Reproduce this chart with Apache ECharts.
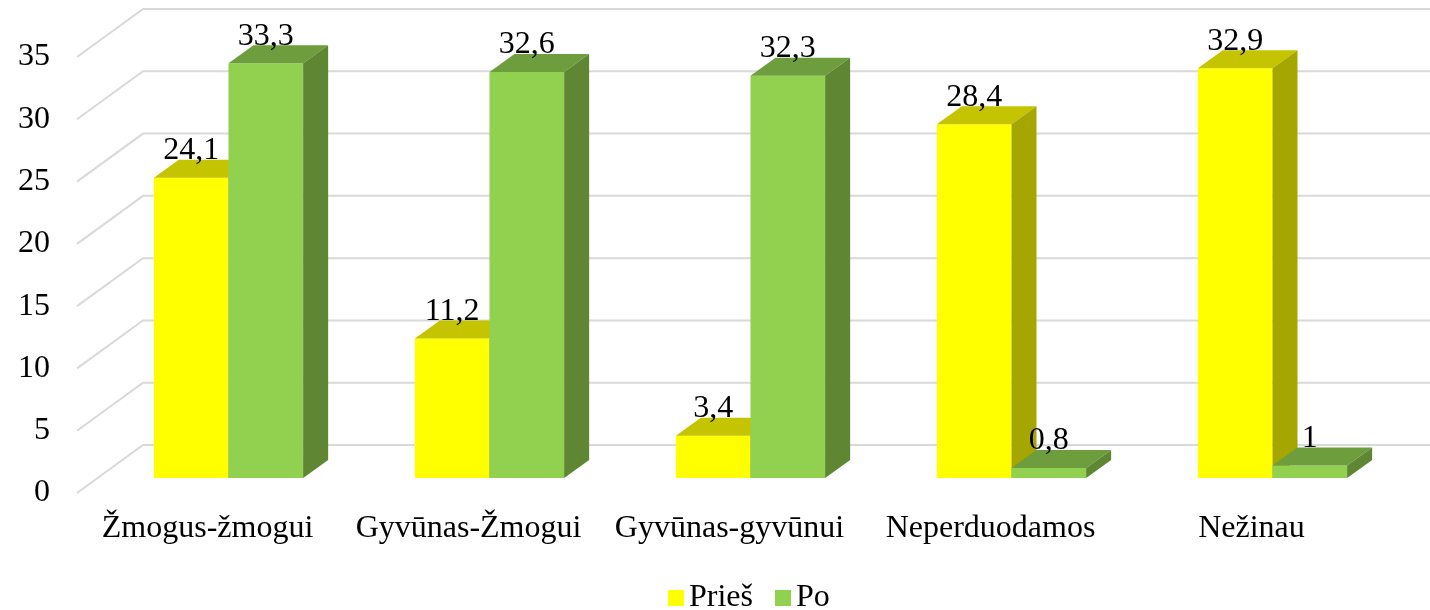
<!DOCTYPE html>
<html>
<head>
<meta charset="utf-8">
<script src="https://cdn.jsdelivr.net/npm/echarts@6/dist/echarts.min.js"></script>
<style>
  html, body { margin: 0; padding: 0; background: #fff; }
  #chart { width: 1430px; height: 610px; }
</style>
</head>
<body>
<div id="chart"></div>
<script>
var categories = ['Žmogus-žmogui', 'Gyvūnas-Žmogui', 'Gyvūnas-gyvūnui', 'Neperduodamos', 'Nežinau'];
var pries = [24.1, 11.2, 3.4, 28.4, 32.9];
var po = [33.3, 32.6, 32.3, 0.8, 1];
var yTicks = [0, 5, 10, 15, 20, 25, 30, 35];

var FONT = '"Liberation Serif", "Times New Roman", serif';

// 3d offsets (px)
var OFF_X = 21, OFF_Y = -15;   // bar front plane vs floor front
var DX = 25, DY = -18;         // bar depth
var WX = 66, WY = -48;         // back wall vs floor front

var fmt = function(v) {
  return String(v).replace('.', ',');
};

var barRenderer = function(side, front, topC, sideC) {
  return function(params, api) {
    var cat = api.value(0), val = api.value(1);
    var base = api.coord([cat, 0]);
    var top = api.coord([cat, val]);
    var bw = api.size([1, 0])[0] * 0.286;
    var cx = base[0] + OFF_X;
    var x0 = side < 0 ? cx - bw : cx;
    var x1 = x0 + bw;
    var yb = base[1] + OFF_Y;
    var yt = top[1] + OFF_Y;
    return {
      type: 'group',
      children: [
        { type: 'rect', shape: { x: x0, y: yt, width: bw, height: yb - yt }, style: { fill: front } },
        { type: 'polygon', shape: { points: [[x0, yt], [x1, yt], [x1 + DX, yt + DY], [x0 + DX, yt + DY]] }, style: { fill: topC } },
        { type: 'polygon', shape: { points: [[x1, yt], [x1 + DX, yt + DY], [x1 + DX, yb + DY], [x1, yb]] }, style: { fill: sideC } },
        { type: 'text', style: { text: fmt(val), x: x0 + bw / 2, y: yt + DY + 7, align: 'center', verticalAlign: 'bottom', fill: '#000', font: '32px ' + FONT } }
      ]
    };
  };
};

var chart = echarts.init(document.getElementById('chart'));

var chartSettings = {
  animation: false,
  backgroundColor: '#fff',
  grid: { left: 77, right: 48, top: 57, bottom: 117 },
  legend: {
    data: ['Prieš', 'Po'],
    left: 663,
    top: 577,
    icon: 'rect',
    itemWidth: 16,
    itemHeight: 16,
    itemGap: 22,
    textStyle: { fontFamily: FONT, fontSize: 32, color: '#000' }
  },
  xAxis: {
    type: 'category',
    data: categories,
    axisLine: { show: false },
    axisTick: { show: false },
    axisLabel: { interval: 0, fontFamily: FONT, fontSize: 32, color: '#000', margin: 20 }
  },
  yAxis: {
    type: 'value',
    min: 0,
    max: 35,
    interval: 5,
    splitLine: { show: false },
    axisLine: { show: false },
    axisLabel: { fontFamily: FONT, fontSize: 32, color: '#000', margin: 27 }
  },
  series: [
    {
      type: 'custom',
      silent: true,
      z: 1,
      data: yTicks.map(function(v) { return [0, v]; }),
      renderItem: function(params, api) {
        var cs = params.coordSys;
        var y = api.coord([0, api.value(1)])[1];
        return {
          type: 'polyline',
          shape: { points: [[cs.x, y], [cs.x + WX, y + WY], [cs.x + cs.width + WX + 60, y + WY]] },
          style: { stroke: '#d9d9d9', lineWidth: 2, fill: null }
        };
      }
    },
    {
      name: 'Prieš',
      type: 'custom',
      z: 2,
      itemStyle: { color: '#ffff00' },
      data: pries.map(function(v, i) { return [i, v]; }),
      renderItem: barRenderer(-1, '#ffff00', '#c4c400', '#a6a600')
    },
    {
      name: 'Po',
      type: 'custom',
      z: 3,
      itemStyle: { color: '#92d050' },
      data: po.map(function(v, i) { return [i, v]; }),
      renderItem: barRenderer(1, '#92d050', '#6e9d3e', '#5e8633')
    }
  ]
};

chart.setOption(chartSettings);
</script>
</body>
</html>
